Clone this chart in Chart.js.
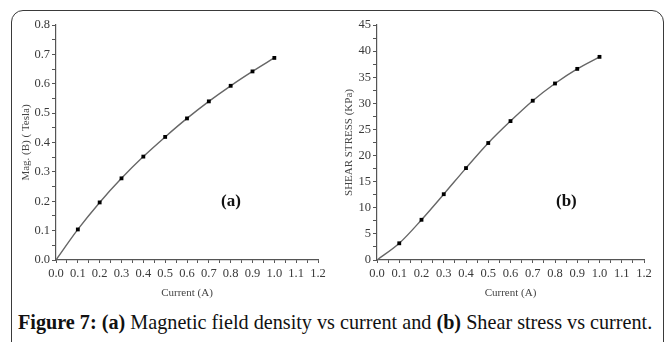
<!DOCTYPE html>
<html><head><meta charset="utf-8">
<script src="https://cdn.jsdelivr.net/npm/chart.js@4"></script>
<style>
html,body{margin:0;padding:0;background:#fff;width:668px;height:342px;overflow:hidden;}
#frame{position:absolute;left:11px;top:10px;width:653px;height:360px;border:1.5px solid #3a3a3a;border-radius:12px;box-sizing:border-box;}
.cv{position:absolute;}
#ca{left:12px;top:14px;}
#cb{left:336px;top:14px;}
.lab{position:absolute;font-family:"Liberation Serif","DejaVu Serif",serif;font-weight:bold;font-size:17px;color:#111;}
#cap{position:absolute;left:18px;top:311px;font-family:"Liberation Serif","DejaVu Serif",serif;font-size:20.2px;color:#111;white-space:nowrap;}
</style></head>
<body>
<div id="frame"></div>
<canvas id="ca" class="cv" width="318" height="290"></canvas>
<canvas id="cb" class="cv" width="320" height="290"></canvas>
<div class="lab" style="left:221px;top:191px;">(a)</div>
<div class="lab" style="left:556px;top:191px;">(b)</div>
<div id="cap"><b>Figure 7: (a)</b> Magnetic field density vs current and <b>(b)</b> Shear stress vs current.</div>
<script>
const current = [0.0, 0.1, 0.2, 0.3, 0.4, 0.5, 0.6, 0.7, 0.8, 0.9, 1.0];
const magField = [0.0, 0.104, 0.196, 0.278, 0.352, 0.419, 0.482, 0.540, 0.593, 0.642, 0.688];
const shearStress = [0.0, 3.2, 7.7, 12.6, 17.6, 22.4, 26.6, 30.5, 33.8, 36.6, 38.9];
const xTickLabels = ['0.0','0.1','0.2','0.3','0.4','0.5','0.6','0.7','0.8','0.9','1.0','1.1','1.2'];
const yTickLabelsA = ['0.0','0.1','0.2','0.3','0.4','0.5','0.6','0.7','0.8'];
const yTickLabelsB = ['0','5','10','15','20','25','30','35','40','45'];

const FONT = '"Liberation Serif","DejaVu Serif",serif';
const AX = '#555';

function makeChart(id, yVals, yMax, yStep, yLabels, yTitle, yWidth, padL, padR) {
  const pts = current.map((x, i) => ({x: x, y: yVals[i]}));
  return new Chart(document.getElementById(id), {
    type: 'scatter',
    data: {datasets: [{
      data: pts,
      showLine: true,
      borderColor: '#666',
      borderWidth: 1.4,
      cubicInterpolationMode: 'monotone',
      pointStyle: 'rect',
      pointRadius: (ctx) => ctx.dataIndex === 0 ? 0 : 2.7,
      pointBackgroundColor: '#000',
      pointBorderColor: '#000',
      pointBorderWidth: 0
    }]},
    options: {
      responsive: false, animation: false,
      layout: {padding: {top: 11, right: padR, left: padL, bottom: 0}},
      plugins: {legend: {display: false}, tooltip: {enabled: false}},
      scales: {
        x: {
          type: 'linear', min: 0, max: 1.2,
          border: {color: AX, width: 1.2},
          grid: {drawOnChartArea: false, drawTicks: true, tickLength: 3, color: AX},
          ticks: {
            stepSize: 0.05, autoSkip: false, maxRotation: 0, padding: 3,
            color: '#3a3a3a', font: {family: FONT, size: 12.5},
            callback: (v) => {
              const k = Math.round(v * 20);
              return k % 2 === 0 ? xTickLabels[k / 2] : '';
            }
          },
          title: {display: true, text: 'Current (A)', color: '#444', font: {family: FONT, size: 11}, padding: {top: 0}},
          afterFit: (s) => { s.height = 44; }
        },
        y: {
          type: 'linear', min: 0, max: yMax,
          border: {color: AX, width: 1.2},
          grid: {drawOnChartArea: false, drawTicks: true, tickLength: 4, color: AX},
          ticks: {
            stepSize: yStep / 2, autoSkip: false, padding: 2,
            color: '#3a3a3a', font: {family: FONT, size: 12.5},
            callback: (v) => {
              const k = Math.round(v / (yStep / 2));
              return k % 2 === 0 ? yLabels[k / 2] : '';
            }
          },
          title: {display: true, text: yTitle, color: '#444', font: {family: FONT, size: 11}, padding: {bottom: 2}},
          afterFit: (s) => { s.width = yWidth; }
        }
      }
    }
  });
}

makeChart('ca', magField, 0.8, 0.1, yTickLabelsA, 'Mag. (B) ( Tesla)', 40, 4, 12);
makeChart('cb', shearStress, 45, 5, yTickLabelsB, 'SHEAR STRESS (KPa)', 38, 3, 12);
</script>
</body></html>
